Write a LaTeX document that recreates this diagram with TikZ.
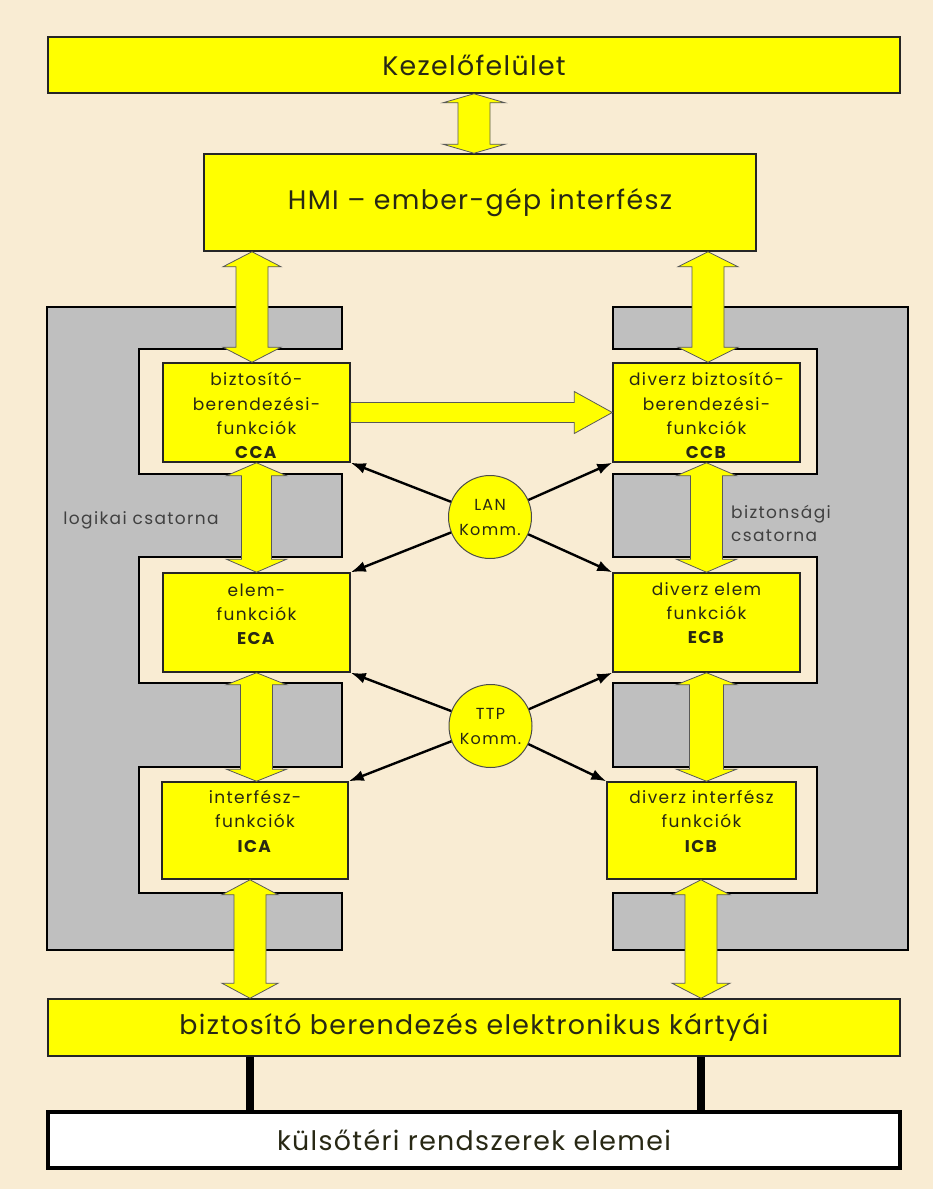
\documentclass[tikz,border=0pt]{standalone}
\usepackage{fontspec}
\setmainfont{Poppins}
\newfontfamily\bigfont[LetterSpace=5]{Poppins}
\newfontfamily\smallfont[LetterSpace=8]{Poppins}
\usetikzlibrary{calc,arrows.meta}

\definecolor{paper}{RGB}{249,236,211}
\definecolor{chan}{RGB}{191,191,191}
\definecolor{hl}{RGB}{255,255,0}
\definecolor{ink}{RGB}{40,40,20}

\tikzset{
  panel/.style={fill=chan, draw=black, line width=1.6pt, line join=miter},
  bigbox/.style={rectangle, fill=hl, draw=black!85, line width=1.5pt, inner sep=0pt,
    text=ink, font=\bigfont\fontsize{26.8}{31}\selectfont},
  fnbox/.style={rectangle, fill=hl, draw=black!85, line width=1.5pt, inner sep=0pt,
    minimum width=187pt, minimum height=99pt},
  fntext/.style={anchor=north, align=center, text=ink, inner sep=0pt,
    font=\smallfont\fontsize{17}{24.2}\selectfont},
  fat/.style={fill=hl, draw=black!65, line width=0.8pt, line join=miter},
  comm/.style={circle, fill=hl, draw=black!70, line width=1pt, minimum size=83pt,
    inner sep=0pt, align=center, text=ink, font=\smallfont\fontsize{16}{25}\selectfont},
  link/.style={draw=black, line width=2.4pt, -{Latex[length=15pt,width=11pt]}},
  chanlabel/.style={text=black!75, inner sep=0pt, font=\smallfont\fontsize{17}{23}\selectfont},
  wire/.style={draw=black, line width=8pt}
}

% outlined block arrow with heads at both ends (vertical, #1 above #2)
\newcommand\fatboth[5]{%
  \draw[fat] let \p1=(#1), \p2=(#2) in
    (\x1,\y1) -- ({\x1+#4},{\y1-#5}) -- ({\x1+#3},{\y1-#5})
    -- ({\x1+#3},{\y2+#5}) -- ({\x1+#4},{\y2+#5}) -- (\x1,\y2)
    -- ({\x1-#4},{\y2+#5}) -- ({\x1-#3},{\y2+#5}) -- ({\x1-#3},{\y1-#5})
    -- ({\x1-#4},{\y1-#5}) -- cycle;}

\begin{document}
\begin{tikzpicture}[x=1pt,y=-1pt]
\useasboundingbox (0,0) rectangle (933,1189);
\fill[paper] (0,0) rectangle (933,1189);

% channel panels
\draw[panel] (47,307) -- (342,307) -- (342,349) -- (139,349) -- (139,474) -- (342,474)
  -- (342,557) -- (139,557) -- (139,683) -- (342,683) -- (342,767) -- (139,767)
  -- (139,893) -- (342,893) -- (342,950) -- (47,950) -- cycle;
\draw[panel] (613,307) -- (908,307) -- (908,950) -- (613,950) -- (613,893) -- (817,893)
  -- (817,767) -- (613,767) -- (613,683) -- (817,683) -- (817,557) -- (613,557)
  -- (613,474) -- (817,474) -- (817,349) -- (613,349) -- cycle;

\node[chanlabel] (logic) at (141,520) {logikai csatorna};
\node[chanlabel, anchor=west, align=left] (safety) at (731,523.5) {biztonsági\\csatorna};

% lanes of the block arrows
\coordinate (laneL) at (252,0);
\coordinate (laneR) at (708,0);
\coordinate (laneLB) at (250,0);
\coordinate (laneRB) at (701,0);

% main blocks
\node[bigbox, minimum width=852pt, minimum height=56pt] (kez) at (474,65) {Kezelőfelület};
\node[bigbox, minimum width=552pt, minimum height=97pt] (hmi) at (480,202.5) {HMI – ember-gép interfész};
\node[bigbox, minimum width=852pt, minimum height=57pt] (cards) at (474,1027.5) {biztosító berendezés elektronikus kártyái};
\node[bigbox, fill=white, draw=black, line width=4pt, minimum width=852pt, minimum height=56pt] (kulso) at (474,1140) {külsőtéri rendszerek elemei};

% function blocks
\node[fnbox] (cca) at (256.5,412.5) {};
\node[fnbox] (eca) at (256.5,622.5) {};
\node[fnbox, minimum width=186pt, minimum height=97pt] (ica) at (255,830.5) {};
\node[fnbox] (ccb) at (706.5,412.5) {};
\node[fnbox] (ecb) at (706.5,622.5) {};
\node[fnbox, minimum width=189pt, minimum height=97pt] (icb) at (701.5,830.5) {};

\node[fntext] (ccaT) at ([yshift=-10pt]cca.north) {biztosító-\\berendezési-\\funkciók\\\textbf{CCA}};
\node[fntext] (ecaT) at ([yshift=-11pt]eca.north) {elem-\\funkciók\\\textbf{ECA}};
\node[fntext] (icaT) at ([yshift=-9pt]ica.north) {interfész-\\funkciók\\\textbf{ICA}};
\node[fntext] (ccbT) at ([yshift=-10pt]ccb.north) {diverz biztosító-\\berendezési-\\funkciók\\\textbf{CCB}};
\node[fntext] (ecbT) at ([yshift=-10pt]ecb.north) {diverz elem\\funkciók\\\textbf{ECB}};
\node[fntext] (icbT) at ([yshift=-9pt]icb.north) {diverz interfész\\funkciók\\\textbf{ICB}};

% block arrows
\fatboth{kez.south}{hmi.north -| kez.south}{16}{31}{9}
\fatboth{hmi.south -| laneL}{cca.north -| laneL}{16}{29}{15}
\fatboth{hmi.south -| laneR}{ccb.north -| laneR}{16}{30}{15}
\fatboth{cca.south}{eca.north}{15}{30}{13}
\fatboth{eca.south}{ica.north -| eca.south}{16}{30}{12}
\fatboth{ccb.south}{ecb.north}{16}{30}{13}
\fatboth{ecb.south}{icb.north -| ecb.south}{17}{30}{12}
\fatboth{ica.south -| laneLB}{cards.north -| laneLB}{16}{28}{15}
\fatboth{icb.south -| laneRB}{cards.north -| laneRB}{16}{29}{15}

% cross-channel block arrow
\draw[fat] let \p1=(cca.east), \p2=(ccb.west) in
  (\x1,{\y1+10}) -- ({\x2-38},{\y1+10}) -- ({\x2-38},{\y1+21}) -- (\x2,\y1)
  -- ({\x2-38},{\y1-21}) -- ({\x2-38},{\y1-10}) -- (\x1,{\y1-10}) -- cycle;

% field connections
\draw[wire] (cards.south -| laneLB) -- (kulso.north -| laneLB);
\draw[wire] (cards.south -| laneRB) -- (kulso.north -| laneRB);

% communication nodes
\node[comm] (lan) at (490,517) {LAN\\Komm.};
\node[comm] (ttp) at (490.5,726) {TTP\\Komm.};

\draw[link] (lan) -- (cca.south east);
\draw[link] (lan) -- (eca.north east);
\draw[link] (lan) -- (ccb.south west);
\draw[link] (lan) -- (ecb.north west);
\draw[link] (ttp) -- (eca.south east);
\draw[link] (ttp) -- (ica.north east);
\draw[link] (ttp) -- (ecb.south west);
\draw[link] (ttp) -- (icb.north west);
\end{tikzpicture}
\end{document}
